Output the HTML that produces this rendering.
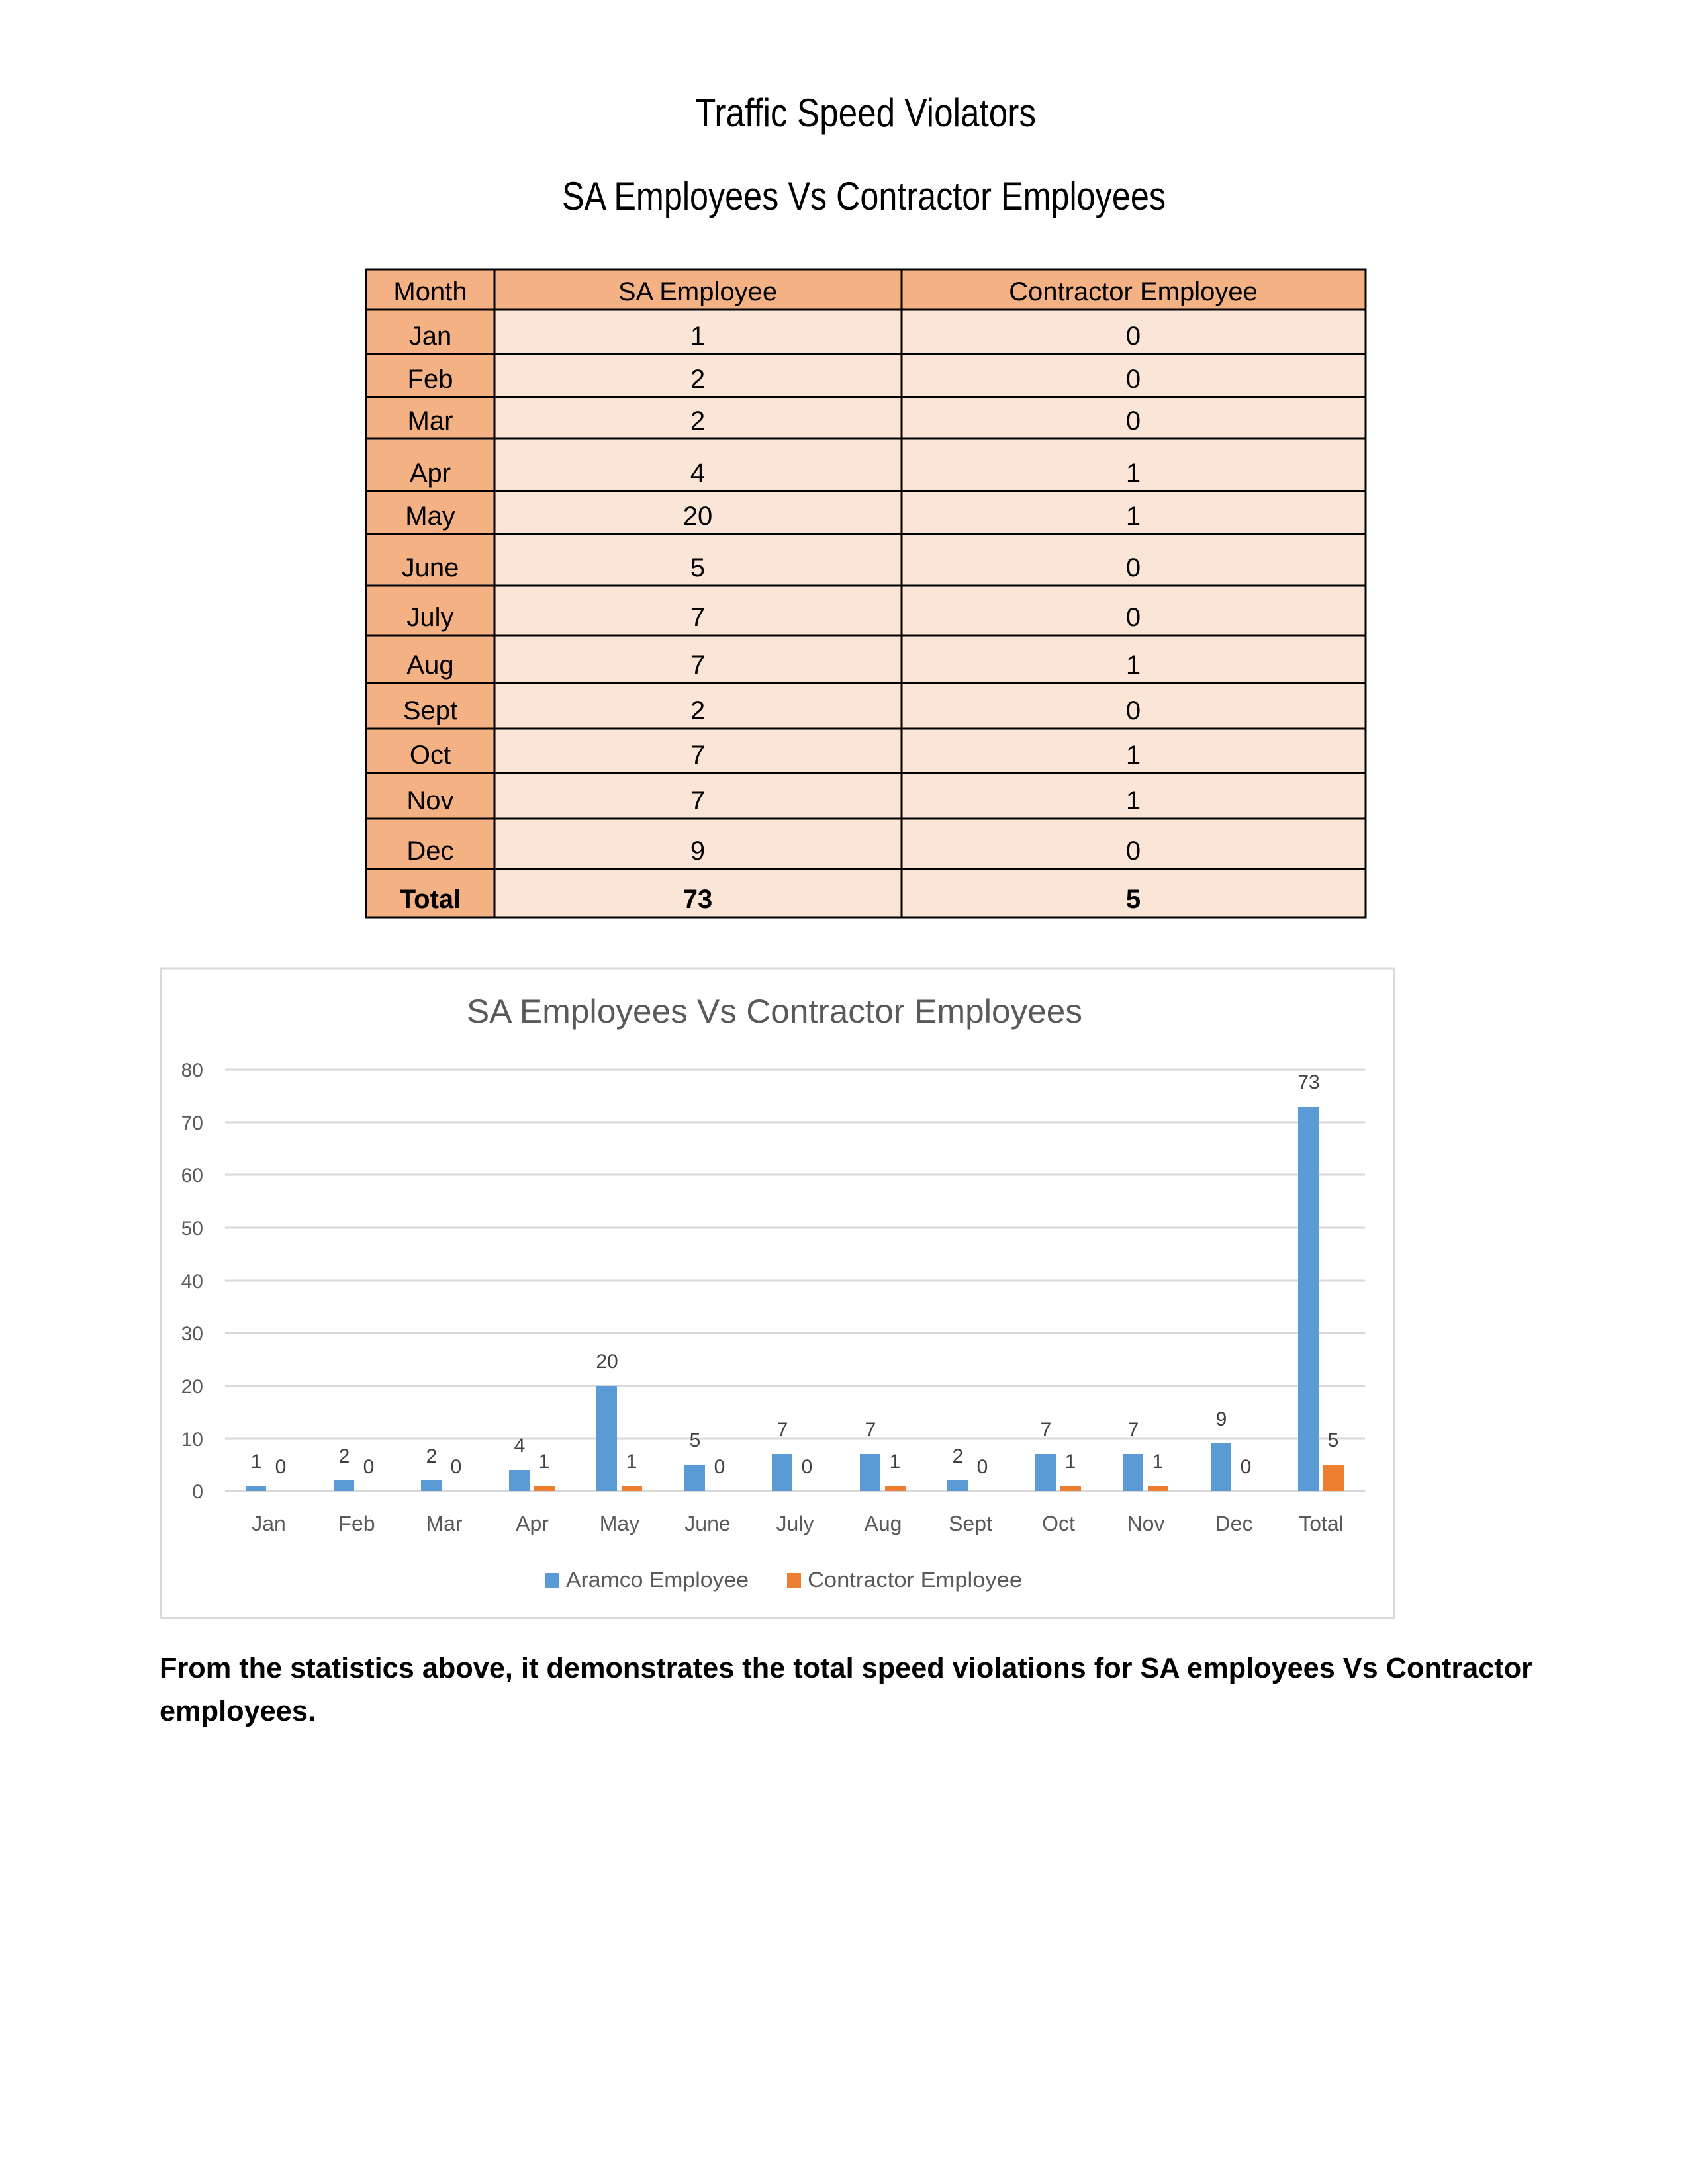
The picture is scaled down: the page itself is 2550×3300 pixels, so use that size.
<!DOCTYPE html>
<html><head><meta charset="utf-8"><style>html,body{margin:0;padding:0;background:#fff}svg{display:block}</style></head>
<body>
<svg width="2550" height="3300" viewBox="0 0 2550 3300" xmlns="http://www.w3.org/2000/svg" font-family="Liberation Sans, sans-serif">
<rect width="2550" height="3300" fill="#fff"/>
<text x="1050" y="191" font-size="60" textLength="515" lengthAdjust="spacingAndGlyphs" fill="#000">Traffic Speed Violators</text>
<text x="849" y="317" font-size="60" textLength="912" lengthAdjust="spacingAndGlyphs" fill="#000">SA Employees Vs Contractor Employees</text>

<!-- table -->
<rect x="553" y="407" width="1510" height="979" fill="#FBE5D6"/>
<rect x="553" y="407" width="1510" height="61" fill="#F4B183"/>
<rect x="553" y="407" width="194" height="979" fill="#F4B183"/>
<g stroke="#000" stroke-width="3" fill="none">
<rect x="553" y="407" width="1510" height="979"/>
<line x1="747" y1="407" x2="747" y2="1386"/>
<line x1="1362" y1="407" x2="1362" y2="1386"/>
<line x1="553" y1="468" x2="2063" y2="468"/>
<line x1="553" y1="535" x2="2063" y2="535"/>
<line x1="553" y1="600" x2="2063" y2="600"/>
<line x1="553" y1="663" x2="2063" y2="663"/>
<line x1="553" y1="742" x2="2063" y2="742"/>
<line x1="553" y1="807" x2="2063" y2="807"/>
<line x1="553" y1="885" x2="2063" y2="885"/>
<line x1="553" y1="960" x2="2063" y2="960"/>
<line x1="553" y1="1032" x2="2063" y2="1032"/>
<line x1="553" y1="1101" x2="2063" y2="1101"/>
<line x1="553" y1="1168" x2="2063" y2="1168"/>
<line x1="553" y1="1237" x2="2063" y2="1237"/>
<line x1="553" y1="1313" x2="2063" y2="1313"/>
</g>
<g font-size="40" text-anchor="middle" fill="#000">
<text x="650" y="454">Month</text><text x="1054" y="454">SA Employee</text><text x="1712" y="454">Contractor Employee</text>
<text x="650" y="521">Jan</text><text x="1054" y="521">1</text><text x="1712" y="521">0</text>
<text x="650" y="586">Feb</text><text x="1054" y="586">2</text><text x="1712" y="586">0</text>
<text x="650" y="649">Mar</text><text x="1054" y="649">2</text><text x="1712" y="649">0</text>
<text x="650" y="728">Apr</text><text x="1054" y="728">4</text><text x="1712" y="728">1</text>
<text x="650" y="793">May</text><text x="1054" y="793">20</text><text x="1712" y="793">1</text>
<text x="650" y="871">June</text><text x="1054" y="871">5</text><text x="1712" y="871">0</text>
<text x="650" y="946">July</text><text x="1054" y="946">7</text><text x="1712" y="946">0</text>
<text x="650" y="1018">Aug</text><text x="1054" y="1018">7</text><text x="1712" y="1018">1</text>
<text x="650" y="1087">Sept</text><text x="1054" y="1087">2</text><text x="1712" y="1087">0</text>
<text x="650" y="1154">Oct</text><text x="1054" y="1154">7</text><text x="1712" y="1154">1</text>
<text x="650" y="1223">Nov</text><text x="1054" y="1223">7</text><text x="1712" y="1223">1</text>
<text x="650" y="1299">Dec</text><text x="1054" y="1299">9</text><text x="1712" y="1299">0</text>
<g font-weight="bold"><text x="650" y="1372">Total</text><text x="1054" y="1372">73</text><text x="1712" y="1372">5</text></g>
</g>

<!-- chart -->
<rect x="243" y="1463" width="1863" height="982" fill="#fff" stroke="#D9D9D9" stroke-width="3"/>
<text x="1170" y="1545" font-size="50" text-anchor="middle" textLength="930" lengthAdjust="spacingAndGlyphs" fill="#595959">SA Employees Vs Contractor Employees</text>
<g stroke="#D9D9D9" stroke-width="3">
<line x1="340" y1="1616" x2="2062" y2="1616"/>
<line x1="340" y1="1696" x2="2062" y2="1696"/>
<line x1="340" y1="1775" x2="2062" y2="1775"/>
<line x1="340" y1="1855" x2="2062" y2="1855"/>
<line x1="340" y1="1935" x2="2062" y2="1935"/>
<line x1="340" y1="2014" x2="2062" y2="2014"/>
<line x1="340" y1="2094" x2="2062" y2="2094"/>
<line x1="340" y1="2174" x2="2062" y2="2174"/>
<line x1="340" y1="2253" x2="2062" y2="2253"/>
</g>
<g font-size="30" text-anchor="end" fill="#595959">
<text x="307" y="1627">80</text><text x="307" y="1707">70</text><text x="307" y="1786">60</text>
<text x="307" y="1866">50</text><text x="307" y="1946">40</text><text x="307" y="2025">30</text>
<text x="307" y="2105">20</text><text x="307" y="2185">10</text><text x="307" y="2264">0</text>
</g>
<g fill="#5B9BD5">
<rect x="371" y="2245" width="31" height="8"/>
<rect x="504" y="2237" width="31" height="16"/>
<rect x="636" y="2237" width="31" height="16"/>
<rect x="769" y="2221" width="31" height="32"/>
<rect x="901" y="2094" width="31" height="159"/>
<rect x="1034" y="2213" width="31" height="40"/>
<rect x="1166" y="2197" width="31" height="56"/>
<rect x="1299" y="2197" width="31" height="56"/>
<rect x="1431" y="2237" width="31" height="16"/>
<rect x="1564" y="2197" width="31" height="56"/>
<rect x="1696" y="2197" width="31" height="56"/>
<rect x="1829" y="2181" width="31" height="72"/>
<rect x="1961" y="1672" width="31" height="581"/>
</g>
<g fill="#ED7D31">
<rect x="807" y="2245" width="31" height="8"/>
<rect x="939" y="2245" width="31" height="8"/>
<rect x="1337" y="2245" width="31" height="8"/>
<rect x="1602" y="2245" width="31" height="8"/>
<rect x="1734" y="2245" width="31" height="8"/>
<rect x="1999" y="2213" width="31" height="40"/>
</g>
<g font-size="30" text-anchor="middle" fill="#404040">
<text x="387" y="2218">1</text><text x="424" y="2226">0</text>
<text x="520" y="2210">2</text><text x="557" y="2226">0</text>
<text x="652" y="2210">2</text><text x="689" y="2226">0</text>
<text x="785" y="2194">4</text><text x="822" y="2218">1</text>
<text x="917" y="2067">20</text><text x="954" y="2218">1</text>
<text x="1050" y="2186">5</text><text x="1087" y="2226">0</text>
<text x="1182" y="2170">7</text><text x="1219" y="2226">0</text>
<text x="1315" y="2170">7</text><text x="1352" y="2218">1</text>
<text x="1447" y="2210">2</text><text x="1484" y="2226">0</text>
<text x="1580" y="2170">7</text><text x="1617" y="2218">1</text>
<text x="1712" y="2170">7</text><text x="1749" y="2218">1</text>
<text x="1845" y="2154">9</text><text x="1882" y="2226">0</text>
<text x="1977" y="1645">73</text><text x="2014" y="2186">5</text>
</g>
<g font-size="32" text-anchor="middle" fill="#595959">
<text x="406" y="2313">Jan</text><text x="539" y="2313">Feb</text><text x="671" y="2313">Mar</text>
<text x="804" y="2313">Apr</text><text x="936" y="2313">May</text><text x="1069" y="2313">June</text>
<text x="1201" y="2313">July</text><text x="1334" y="2313">Aug</text><text x="1466" y="2313">Sept</text>
<text x="1599" y="2313">Oct</text><text x="1731" y="2313">Nov</text><text x="1864" y="2313">Dec</text>
<text x="1996" y="2313">Total</text>
</g>
<rect x="824" y="2377" width="21" height="22" fill="#5B9BD5"/>
<text x="855" y="2398" font-size="32" textLength="276" lengthAdjust="spacingAndGlyphs" fill="#595959">Aramco Employee</text>
<rect x="1189" y="2377" width="21" height="22" fill="#ED7D31"/>
<text x="1220" y="2398" font-size="32" textLength="324" lengthAdjust="spacingAndGlyphs" fill="#595959">Contractor Employee</text>

<text x="241" y="2535" font-size="44" font-weight="bold" textLength="2074" lengthAdjust="spacingAndGlyphs" fill="#000">From the statistics above, it demonstrates the total speed violations for SA employees Vs Contractor</text>
<text x="241" y="2600" font-size="44" font-weight="bold" textLength="236" lengthAdjust="spacingAndGlyphs" fill="#000">employees.</text>
</svg>
</body></html>
